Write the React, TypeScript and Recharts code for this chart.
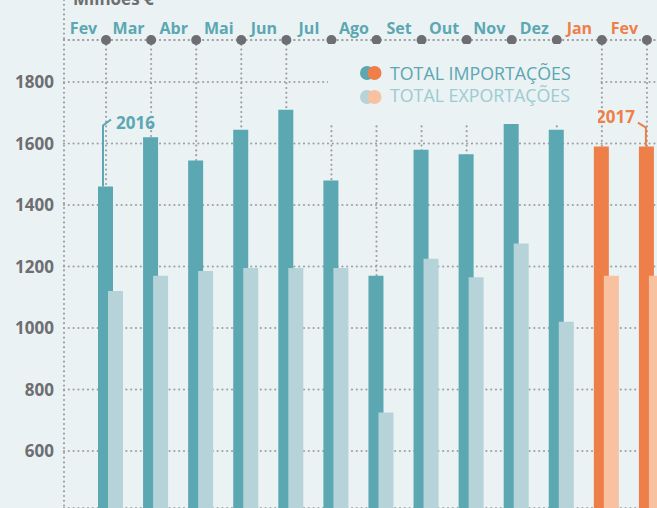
import { Bar, BarChart, CartesianGrid, Cell, LabelList, Legend, XAxis, YAxis } from "recharts";

const months = ["Fev", "Mar", "Abr", "Mai", "Jun", "Jul", "Ago", "Set", "Out", "Nov", "Dez", "Jan", "Fev"];
const years = ["2016", "2016", "2016", "2016", "2016", "2016", "2016", "2016", "2016", "2016", "2016", "2017", "2017"];
const importacoes = [1460, 1620, 1545, 1645, 1710, 1480, 1170, 1580, 1565, 1675, 1645, 1590, 1590];
const exportacoes = [1120, 1170, 1185, 1195, 1195, 1195, 725, 1225, 1165, 1275, 1020, 1170, 1170];
const yTicks = [600, 800, 1000, 1200, 1400, 1600, 1800];

const BG = "#eaf2f4";
const TEAL = "#5ba7b2";
const TEAL_LIGHT = "#b5d3d8";
const ORANGE = "#ef7f49";
const ORANGE_LIGHT = "#f8c2a0";
const GRAY = "#6d6e71";
const GRID = "#9ea1a4";
const FONT = "'Open Sans', sans-serif";

const W = 680;
const H = 508;
const PAD_L = 24;
const PAD_R = 6;
const DOT_SHIFT = -4.5; // separator dot sits a bit left of the band centre
const LABEL_SHIFT = -27;

const dotted = { stroke: GRID, strokeWidth: 2.2, strokeDasharray: "0 4.8", strokeLinecap: "round" as const };

const rows = months.map((m, i) => ({
  id: `${m} ${years[i]}`,
  month: m,
  year: years[i],
  importacoes: importacoes[i],
  exportacoes: exportacoes[i],
  note: i === 0 ? years[0] : i === months.length - 1 ? years[years.length - 1] : "",
}));

const is2017 = (i: number) => years[i] === "2017";

function MonthTick(props: any) {
  const { x, y, index } = props;
  return (
    <g>
      <text x={x + LABEL_SHIFT} y={y - 6} textAnchor="middle" fill={is2017(index) ? ORANGE : TEAL}
        fontSize={16} fontWeight={700} fontFamily={FONT}>
        {months[index]}
      </text>
      <circle cx={x + DOT_SHIFT} cy={y} r={5} fill={GRAY} />
    </g>
  );
}

function UnitLabel(props: any) {
  const vb = props.viewBox || { x: 0, y: 40, width: 64, height: 468 };
  const ax = vb.x + vb.width;
  return (
    <g>
      <line x1={ax} x2={ax} y1={0} y2={vb.y} {...dotted} />
      <text x={ax + 9} y={vb.y - 35} fill={GRAY} fontSize={17} fontWeight={700} fontFamily={FONT}>
        Milhões €
      </text>
    </g>
  );
}

function YearNote(props: any) {
  const { value } = props;
  if (!value) return null;
  const vb = props.viewBox || props;
  const x = vb.x;
  const y = vb.y;
  if (value === years[0]) {
    return (
      <g>
        <path d={`M${x + 5},${y} L${x + 5},${y - 61} L${x + 13},${y - 67}`} stroke={TEAL} strokeWidth={2} fill="none" />
        <text x={x + 18} y={y - 58} fill={TEAL} fontSize={17} fontWeight={700} fontFamily={FONT}>{value}</text>
      </g>
    );
  }
  return (
    <g>
      <path d={`M${x + 7},${y} L${x + 7},${y - 19} L${x - 1},${y - 24}`} stroke={ORANGE} strokeWidth={2} fill="none" />
      <text x={x - 4} y={y - 24} textAnchor="end" fill={ORANGE} fontSize={17} fontWeight={700} fontFamily={FONT}>{value}</text>
    </g>
  );
}

function LegendBox() {
  return (
    <svg width={270} height={80} style={{ display: "block", background: BG }}>
      <circle cx={39} cy={29} r={7} fill={TEAL} />
      <circle cx={46.5} cy={29} r={7} fill={ORANGE} />
      <text x={62} y={36} fill={TEAL} fontSize={17.8} fontFamily={FONT}>TOTAL IMPORTAÇÕES</text>
      <circle cx={39} cy={53} r={7} fill={TEAL_LIGHT} />
      <circle cx={46.5} cy={53} r={7} fill={ORANGE_LIGHT} />
      <text x={62} y={58} fill="#9ccbd2" fontSize={17.8} fontFamily={FONT}>TOTAL EXPORTAÇÕES</text>
    </svg>
  );
}

const gridX = (props: any) => {
  const { xAxis, offset } = props;
  const scale = xAxis?.scale;
  if (typeof scale === "function" && typeof scale.bandwidth === "function") {
    const bw = scale.bandwidth();
    const pts = rows.map((r) => scale(r.id) + bw / 2 + DOT_SHIFT);
    if (pts.every((p) => Number.isFinite(p))) return pts;
  }
  const band = (offset.width - PAD_L - PAD_R) / rows.length;
  return rows.map((_, i) => offset.left + PAD_L + band * (i + 0.5) + DOT_SHIFT);
};

export default function App() {
  return (
    <div style={{ position: "fixed", left: 0, top: 0, width: 657, height: 508, overflow: "hidden", background: BG }}>
      <BarChart width={W} height={H} data={rows} margin={{ top: 0, right: 0, bottom: 0, left: 0 }}
        barSize={15} barGap={-5}>
        <CartesianGrid horizontal vertical verticalCoordinatesGenerator={gridX} {...dotted} />
        <XAxis dataKey="id" orientation="top" height={40} interval={0} tickLine={false} tickSize={0} tickMargin={0}
          padding={{ left: PAD_L, right: PAD_R }} axisLine={dotted} tick={<MonthTick />} />
        <YAxis type="number" width={64} domain={[414.6, 1936.6]} allowDataOverflow ticks={yTicks} tickLine={false}
          tickSize={0} tickMargin={10} axisLine={dotted} label={<UnitLabel />}
          tick={{ fill: GRAY, fontSize: 17, fontWeight: 700, fontFamily: FONT }} />
        <Legend verticalAlign="middle" align="center" layout="horizontal" content={<LegendBox />}
          wrapperStyle={{ left: 328, top: 44, width: 270, height: 80 }} />
        <Bar dataKey="importacoes" isAnimationActive={false}>
          {rows.map((r, i) => (
            <Cell key={r.id} fill={is2017(i) ? ORANGE : TEAL} />
          ))}
          <LabelList dataKey="note" content={<YearNote />} />
        </Bar>
        <Bar dataKey="exportacoes" isAnimationActive={false}>
          {rows.map((r, i) => (
            <Cell key={r.id} fill={is2017(i) ? ORANGE_LIGHT : TEAL_LIGHT} />
          ))}
        </Bar>
      </BarChart>
    </div>
  );
}
